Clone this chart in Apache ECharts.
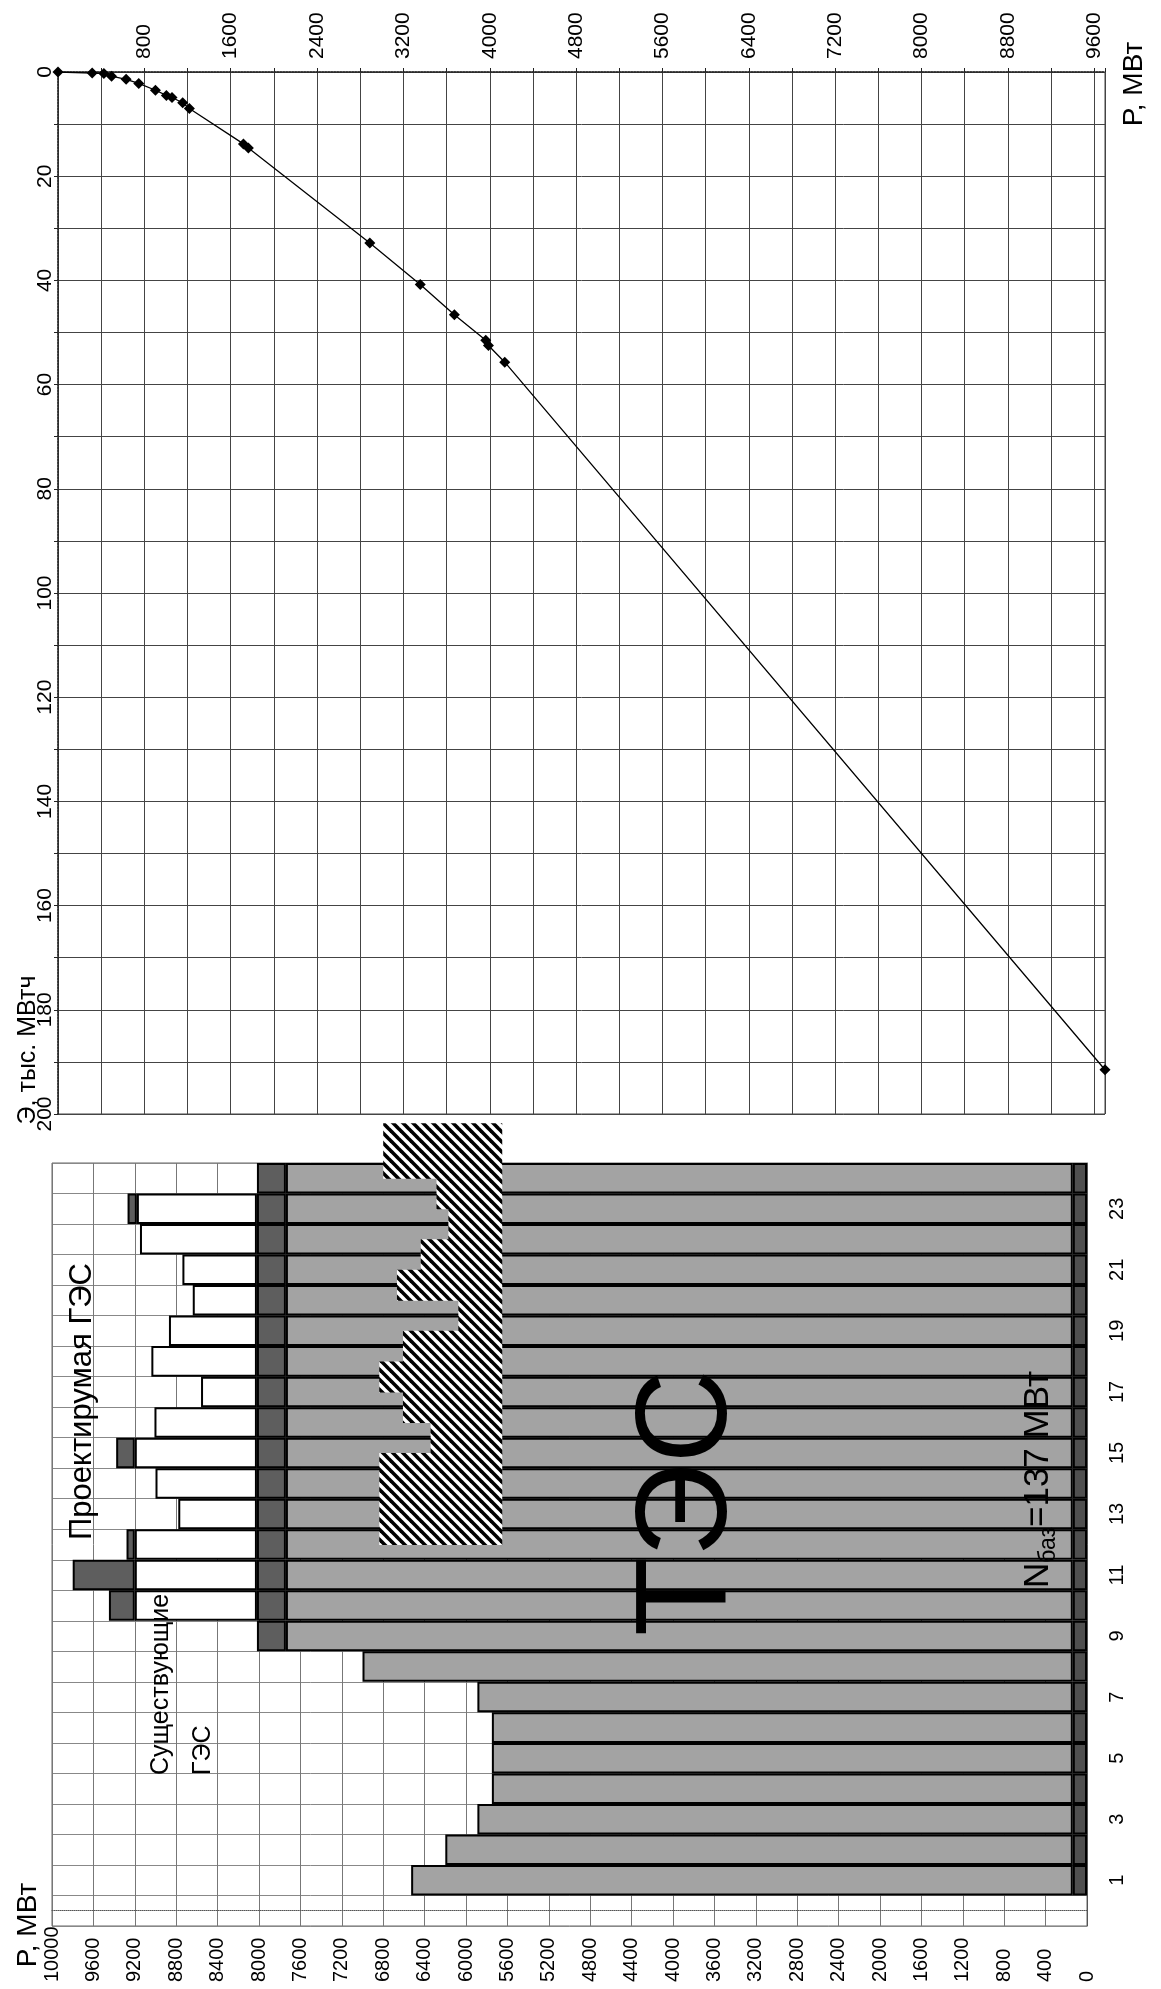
<!DOCTYPE html>
<html>
<head>
<meta charset="utf-8">
<script src="https://cdn.jsdelivr.net/npm/echarts/dist/echarts.min.js"></script>
<style>
html,body{margin:0;padding:0;background:#fff;}
#chart{width:1161px;height:1989px;}
</style>
</head>
<body>
<div id="chart"></div>
<script>
// ---------- data: integral (cumulative) curve ----------
const curveP = [0, 317, 425, 496, 631, 748, 903, 1004, 1056, 1155, 1217, 1718, 1764, 2889, 3356, 3672, 3963, 3988, 4139, 9700];
const curveE = [0, 0.2, 0.3, 0.8, 1.4, 2.2, 3.5, 4.5, 4.9, 5.9, 7.0, 13.8, 14.6, 32.8, 40.8, 46.6, 51.5, 52.5, 55.7, 191.5];
const curvePMax = 9700;

// ---------- data: daily load graph (levels, MW) ----------
const hours = ['1','2','3','4','5','6','7','8','9','10','11','12','13','14','15','16','17','18','19','20','21','22','23','24'];
const baseLoad = 137; // N баз
const tesTop   = [6530, 6200, 5890, 5750, 5750, 5750, 5890, 7000, 7740, 7740, 7740, 7740, 7740, 7740, 7740, 7740, 7740, 7740, 7740, 7740, 7740, 7740, 7740, 7740];
const existTop = [null, null, null, null, null, null, null, null, 8020, 8020, 8020, 8020, 8020, 8020, 8020, 8020, 8020, 8020, 8020, 8020, 8020, 8020, 8020, 8020];
const projTop  = [null, null, null, null, null, null, null, null, null, 9200, 9200, 9200, 8780, 9000, 9200, 9010, 8560, 9040, 8870, 8640, 8740, 9150, 9180, null];
const capTop   = [null, null, null, null, null, null, null, null, null, 9450, 9800, 9280, null, null, 9380, null, null, null, null, null, null, null, 9270, null];

// hatched zone: [left level, right level, upper position (hour), lower position (hour)]
const hatchLeft   = [6800, 6285, 6170, 6437, 6667, 6074, 6609, 6838, 6609, 6342, 6838];
const hatchRight  = 5650;
const hatchUpper  = [25.8, 24, 23, 22, 21, 20, 19, 18, 17, 16, 15];
const hatchLower  = [24, 23, 22, 21, 20, 19, 18, 17, 16, 15, 12];

// ---------- derived tables ----------
const cats = [''].concat(hours);
function seg(top, bottom) {
  return top.map((t, i) => {
    const b = bottom[i];
    if (t == null || b == null) return '-';
    return t - b;
  });
}
const baseArr = hours.map(() => baseLoad);
const baseSeg = ['-'].concat(baseArr);
const tesSeg  = ['-'].concat(seg(tesTop, baseArr));
const bandSeg = ['-'].concat(seg(existTop, tesTop));
const projSeg = ['-'].concat(seg(projTop, existTop));
const capSeg  = ['-'].concat(seg(capTop, projTop));
const hatchData = hatchLeft.map((l, i) => [l, hatchRight, hatchUpper[i], hatchLower[i]]);
const curveData = curveP.map((p, i) => [p, curveE[i]]);

// hatch pattern
const pc = document.createElement('canvas');
pc.width = 10; pc.height = 10;
const g = pc.getContext('2d');
g.fillStyle = '#fff'; g.fillRect(0, 0, 10, 10);
g.strokeStyle = '#000'; g.lineWidth = 3.6;
[-10, 0, 10].forEach(k => { g.beginPath(); g.moveTo(k - 2, -2); g.lineTo(k + 12, 12); g.stroke(); });

const FF = '"Liberation Sans", Arial, sans-serif';
const chart = echarts.init(document.getElementById('chart'), null, {renderer: 'canvas'});

const barStyle = (color) => ({color: color, borderColor: '#000', borderWidth: 2});

chart.setOption({
  animation: false,
  backgroundColor: '#fff',
  grid: [
    {left: 58, top: 72, width: 1047, height: 1042, show: true, borderColor: '#444', borderWidth: 1},
    {left: 52, top: 1163, width: 1035, height: 763, show: true, borderColor: '#666', borderWidth: 1}
  ],
  xAxis: [
    {
      gridIndex: 0, type: 'value', position: 'top', min: 0, max: curvePMax, interval: 400,
      axisLine: {show: true, lineStyle: {color: '#222', width: 1.5, type: 'dotted'}},
      axisTick: {show: true, length: 4, lineStyle: {color: '#222'}},
      axisLabel: {
        rotate: 90, margin: 13, align: 'left', verticalAlign: 'middle',
        fontSize: 21, fontFamily: FF, color: '#000',
        formatter: v => (v > 0 && v % 800 === 0) ? String(v) : ''
      },
      splitLine: {show: true, lineStyle: {color: '#444', width: 1}}
    },
    {
      gridIndex: 1, type: 'value', position: 'bottom', inverse: true, min: 0, max: 10000, interval: 400,
      axisLine: {show: true, lineStyle: {color: '#555', width: 1, type: 'dotted'}},
      axisTick: {show: false},
      axisLabel: {
        rotate: 90, margin: 56, align: 'left', verticalAlign: 'middle',
        fontSize: 20, fontFamily: FF, color: '#000',
        formatter: v => String(v)
      },
      splitLine: {show: true, lineStyle: {color: '#777', width: 1}}
    }
  ],
  yAxis: [
    {
      gridIndex: 0, type: 'value', position: 'left', inverse: true, min: 0, max: 200, interval: 10,
      axisLine: {show: true, lineStyle: {color: '#222', width: 1.5, type: 'dotted'}},
      axisTick: {show: true, length: 4, lineStyle: {color: '#222'}},
      axisLabel: {
        rotate: 90, margin: 2, align: 'center', verticalAlign: 'bottom',
        fontSize: 21, fontFamily: FF, color: '#000',
        formatter: v => (v % 20 === 0) ? String(v) : ''
      },
      splitLine: {show: true, lineStyle: {color: '#444', width: 1}}
    },
    {
      gridIndex: 1, type: 'category', position: 'right', data: cats,
      axisLine: {show: true, lineStyle: {color: '#555'}},
      axisTick: {show: false},
      axisLabel: {
        rotate: 90, margin: 20, align: 'center', verticalAlign: 'top',
        fontSize: 20, fontFamily: FF, color: '#000',
        interval: (idx, val) => val !== '' && Number(val) % 2 === 1
      },
      splitLine: {show: true, interval: 0, lineStyle: {color: '#888', width: 1}}
    },
    {
      gridIndex: 1, type: 'value', min: -0.5, max: 24.5, show: false,
      splitLine: {show: false}
    }
  ],
  series: [
    {
      name: 'Э', type: 'line', xAxisIndex: 0, yAxisIndex: 0, data: curveData,
      symbol: 'diamond', symbolSize: 11, itemStyle: {color: '#000'},
      lineStyle: {color: '#000', width: 1.3}, smooth: false, z: 5
    },
    {name: 'base', type: 'bar', xAxisIndex: 1, yAxisIndex: 1, stack: 'load', barWidth: '100%', data: baseSeg, itemStyle: barStyle('#4f4f4f'), z: 2},
    {name: 'ТЭС', type: 'bar', xAxisIndex: 1, yAxisIndex: 1, stack: 'load', barWidth: '100%', data: tesSeg, itemStyle: barStyle('#a3a3a3'), z: 2},
    {name: 'Существующие ГЭС', type: 'bar', xAxisIndex: 1, yAxisIndex: 1, stack: 'load', barWidth: '100%', data: bandSeg, itemStyle: barStyle('#5e5e5e'), z: 2},
    {name: 'Проектируемая ГЭС', type: 'bar', xAxisIndex: 1, yAxisIndex: 1, stack: 'load', barWidth: '100%', data: projSeg, itemStyle: barStyle('#ffffff'), z: 2},
    {name: 'cap', type: 'bar', xAxisIndex: 1, yAxisIndex: 1, stack: 'load', barWidth: '100%', data: capSeg, itemStyle: barStyle('#5e5e5e'), z: 2},
    {
      name: 'hatch', type: 'custom', xAxisIndex: 1, yAxisIndex: 2, clip: false, z: 4,
      data: hatchData,
      encode: {x: [0, 1], y: [2, 3]},
      renderItem: function (params, api) {
        const a = api.coord([api.value(0), api.value(2)]);
        const b = api.coord([api.value(1), api.value(3)]);
        return {
          type: 'rect',
          shape: {x: Math.min(a[0], b[0]), y: Math.min(a[1], b[1]), width: Math.abs(b[0] - a[0]), height: Math.abs(b[1] - a[1]) + 0.5},
          style: {fill: {image: pc, repeat: 'repeat'}, stroke: null}
        };
      }
    }
  ],
  graphic: [
    {type: 'text', x: 1134, y: 84, rotation: Math.PI / 2, z: 10,
     style: {text: 'P, МВт', font: '28px ' + FF, fill: '#000', align: 'center', verticalAlign: 'middle'}},
    {type: 'text', x: 28, y: 1050, rotation: Math.PI / 2, z: 10,
     style: {text: 'Э, тыс. МВтч', font: '25px ' + FF, fill: '#000', align: 'center', verticalAlign: 'middle'}},
    {type: 'text', x: 28, y: 1925, rotation: Math.PI / 2, z: 10,
     style: {text: 'P, МВт', font: '28px ' + FF, fill: '#000', align: 'center', verticalAlign: 'middle'}},
    {type: 'text', x: 182, y: 1775, rotation: Math.PI / 2, z: 10,
     style: {text: 'Существующие\nГЭС', font: '25px ' + FF, lineHeight: 42, fill: '#000', align: 'left', verticalAlign: 'middle'}},
    {type: 'text', x: 82, y: 1540, rotation: Math.PI / 2, z: 10,
     style: {text: 'Проектирумая ГЭС', font: '31px ' + FF, fill: '#000', align: 'left', verticalAlign: 'middle'}},
    {type: 'text', x: 690, y: 1503, rotation: Math.PI / 2, z: 10,
     style: {text: 'ТЭС', font: '130px ' + FF, fill: '#000', align: 'center', verticalAlign: 'middle'}},
    {type: 'text', x: 1038, y: 1588, rotation: Math.PI / 2, z: 10,
     style: {text: 'N{s|баз}=137 МВт', fontSize: 35, fontFamily: FF, fill: '#000', align: 'left', verticalAlign: 'middle',
             rich: {s: {fontSize: 23, fontFamily: FF, fill: '#000', verticalAlign: 'bottom', padding: [0, 0, -5, 0]}}}}
  ]
});
</script>
</body>
</html>
